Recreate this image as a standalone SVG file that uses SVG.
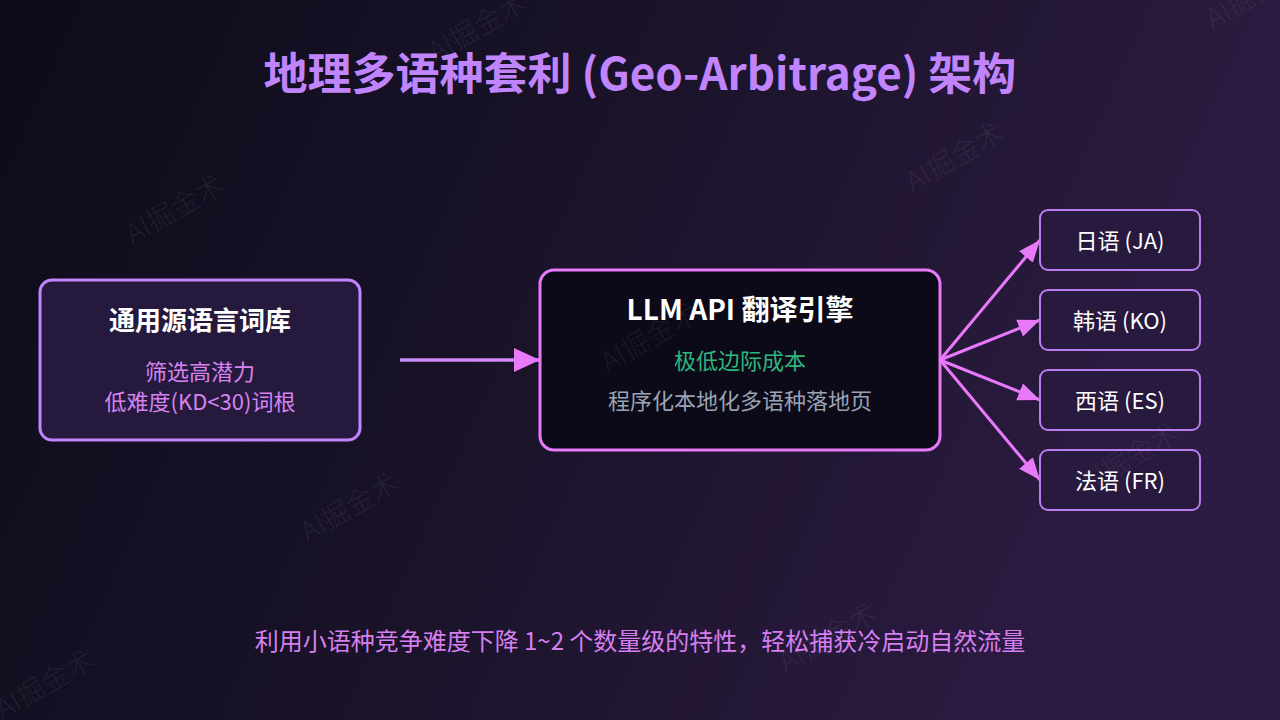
<svg xmlns="http://www.w3.org/2000/svg" width="1280" height="720" viewBox="0 0 1280 720">
  <defs>
    <linearGradient id="bg" x1="0" y1="0" x2="1" y2="0.25">
      <stop offset="0" stop-color="#0d0b1a"/>
      <stop offset="0.5" stop-color="#1a1329"/>
      <stop offset="1" stop-color="#2c1b42"/>
    </linearGradient>
    <linearGradient id="mainLine" gradientUnits="userSpaceOnUse" x1="400" y1="0" x2="540" y2="0">
      <stop offset="0" stop-color="#c88af8"/>
      <stop offset="1" stop-color="#d884f7"/>
    </linearGradient>
    <marker id="headBig" viewBox="0 0 26 24" refX="26" refY="12" markerWidth="26" markerHeight="24" markerUnits="userSpaceOnUse" orient="auto">
      <path d="M0,0 L26,12 L0,24 z" fill="#e879f9"/>
    </marker>
    <marker id="headSmall" viewBox="0 0 22 18" refX="22" refY="9" markerWidth="22" markerHeight="18" markerUnits="userSpaceOnUse" orient="auto">
      <path d="M0,0 L22,9 L0,18 z" fill="#e879f9"/>
    </marker>
  </defs>
  <style>
    .cjk { font-family: "Noto Sans CJK SC", "Noto Sans", sans-serif; }
    .title { font-size: 44px; font-weight: 700; fill: #c084fc; }
    .ntitle { font-size: 26px; font-weight: 700; fill: #ffffff; }
    .ctitle { font-size: 28px; font-weight: 700; fill: #ffffff; }
    .sub { font-size: 22px; fill: #d683f0; }
    .green { font-size: 22px; fill: #2fb57f; }
    .gray { font-size: 22px; fill: #9aa3b4; }
    .lang { font-size: 22px; fill: #ffffff; }
    .foot { font-size: 24px; fill: #d67ff0; }
    .langbox { fill: #28193e; stroke: #b87ef0; stroke-width: 2; }
    .fan { stroke: #e879f9; stroke-width: 3; fill: none; marker-end: url(#headSmall); }
    .wm { font-size: 28px; font-weight: 300; fill: #ffffff; fill-opacity: 0.07; }
  </style>

  <rect x="0" y="0" width="1280" height="720" fill="url(#bg)"/>

  <text class="cjk title" x="640" y="90" text-anchor="middle">地理多语种套利 (Geo-Arbitrage) 架构</text>

  <g id="connectors">
    <line x1="400" y1="360" x2="540" y2="360" stroke="url(#mainLine)" stroke-width="3.5" marker-end="url(#headBig)"/>
    <line class="fan" x1="940" y1="360" x2="1040" y2="240"/>
    <line class="fan" x1="940" y1="360" x2="1040" y2="320"/>
    <line class="fan" x1="940" y1="360" x2="1040" y2="400"/>
    <line class="fan" x1="940" y1="360" x2="1040" y2="480"/>
  </g>

  <g id="node-source">
    <rect x="40" y="280" width="320" height="160" rx="12" fill="#251a3d" stroke="#c084fc" stroke-width="3"/>
    <text class="cjk ntitle" x="200" y="330" text-anchor="middle">通用源语言词库</text>
    <text class="cjk sub" x="200" y="380" text-anchor="middle">筛选高潜力</text>
    <text class="cjk sub" x="200" y="410" text-anchor="middle">低难度(KD&lt;30)词根</text>
  </g>

  <g id="node-engine">
    <rect x="540" y="270" width="400" height="180" rx="14" fill="#0c0a18" stroke="#e879f9" stroke-width="3"/>
    <text class="cjk ctitle" x="740" y="320" text-anchor="middle">LLM API 翻译引擎</text>
    <text class="cjk green" x="740" y="369" text-anchor="middle">极低边际成本</text>
    <text class="cjk gray" x="740" y="409" text-anchor="middle">程序化本地化多语种落地页</text>
  </g>

  <g id="node-ja">
    <rect class="langbox" x="1040" y="210" width="160" height="60" rx="8"/>
    <text class="cjk lang" x="1120" y="249" text-anchor="middle">日语 (JA)</text>
  </g>
  <g id="node-ko">
    <rect class="langbox" x="1040" y="290" width="160" height="60" rx="8"/>
    <text class="cjk lang" x="1120" y="329" text-anchor="middle">韩语 (KO)</text>
  </g>
  <g id="node-es">
    <rect class="langbox" x="1040" y="370" width="160" height="60" rx="8"/>
    <text class="cjk lang" x="1120" y="409" text-anchor="middle">西语 (ES)</text>
  </g>
  <g id="node-fr">
    <rect class="langbox" x="1040" y="450" width="160" height="60" rx="8"/>
    <text class="cjk lang" x="1120" y="489" text-anchor="middle">法语 (FR)</text>
  </g>

  <text class="cjk foot" x="640" y="650" text-anchor="middle">利用小语种竞争难度下降 1~2 个数量级的特性，轻松捕获冷启动自然流量</text>

  <g id="watermarks">
    <text class="cjk wm" x="175" y="219" text-anchor="middle" transform="rotate(-30 175 210)">AI掘金术</text>
    <text class="cjk wm" x="478" y="37" text-anchor="middle" transform="rotate(-30 478 28)">AI掘金术</text>
    <text class="cjk wm" x="955" y="167" text-anchor="middle" transform="rotate(-30 955 158)">AI掘金术</text>
    <text class="cjk wm" x="1255" y="4" text-anchor="middle" transform="rotate(-30 1255 -5)">AI掘金术</text>
    <text class="cjk wm" x="350" y="517" text-anchor="middle" transform="rotate(-30 350 508)">AI掘金术</text>
    <text class="cjk wm" x="650" y="347" text-anchor="middle" transform="rotate(-30 650 338)">AI掘金术</text>
    <text class="cjk wm" x="45" y="694" text-anchor="middle" transform="rotate(-30 45 685)">AI掘金术</text>
    <text class="cjk wm" x="828" y="647" text-anchor="middle" transform="rotate(-30 828 638)">AI掘金术</text>
    <text class="cjk wm" x="1130" y="467" text-anchor="middle" transform="rotate(-30 1130 458)">AI掘金术</text>
  </g>
</svg>
